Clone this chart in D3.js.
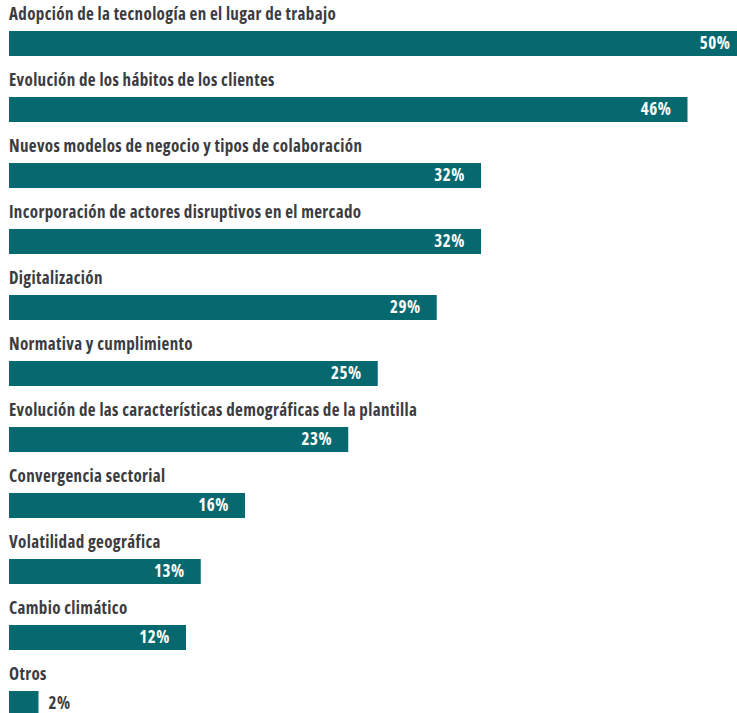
<!DOCTYPE html>
<html>
<head>
<meta charset="utf-8">
<script src="https://cdn.jsdelivr.net/npm/d3@7"></script>
<style>
  html, body { margin: 0; padding: 0; background: #fff; }
  svg { display: block; }
  .lbl { font-family: "Open Sans", "Liberation Sans Narrow", sans-serif; font-stretch: 75%; font-weight: 700; letter-spacing: 0.35px; }
  .val { letter-spacing: 0.6px; }
</style>
</head>
<body>
<svg id="chart" width="737" height="713"></svg>
<script>
const categories = [
  "Adopción de la tecnología en el lugar de trabajo",
  "Evolución de los hábitos de los clientes",
  "Nuevos modelos de negocio y tipos de colaboración",
  "Incorporación de actores disruptivos en el mercado",
  "Digitalización",
  "Normativa y cumplimiento",
  "Evolución de las características demográficas de la plantilla",
  "Convergencia sectorial",
  "Volatilidad geográfica",
  "Cambio climático",
  "Otros"
];
const values = [50, 46, 32, 32, 29, 25, 23, 16, 13, 12, 2];

const svg = d3.select("#chart");
const barColor = "#076970";
const textColor = "#3b3c42";

const x = d3.scaleLinear().domain([0, 50]).range([9, 746.5]);
const y = d3.scaleBand().domain(d3.range(categories.length)).range([0, 726]).paddingInner(0).paddingOuter(0);
const barTop = 31, barH = 25;

const rows = svg.selectAll("g.row").data(categories).join("g")
  .attr("class", "row")
  .attr("transform", (d, i) => `translate(0,${y(i)})`);

// category name above each bar
rows.append("text")
  .attr("class", "lbl")
  .attr("x", 9)
  .attr("y", 20)
  .attr("fill", textColor)
  .style("font-size", "17px")
  .text(d => d);

rows.append("rect")
  .attr("x", x(0))
  .attr("y", barTop)
  .attr("width", (d, i) => x(values[i]) - x(0))
  .attr("height", barH)
  .attr("fill", barColor);

// percentage: inside the bar end, or just outside for very short bars
rows.append("text")
  .attr("class", "lbl val")
  .attr("y", barTop + 18)
  .style("font-size", "17px")
  .attr("x", (d, i) => values[i] < 5 ? x(values[i]) + 10 : x(values[i]) - 16)
  .attr("text-anchor", (d, i) => values[i] < 5 ? "start" : "end")
  .attr("fill", (d, i) => values[i] < 5 ? textColor : "#ffffff")
  .text((d, i) => values[i] + "%");
</script>
</body>
</html>
